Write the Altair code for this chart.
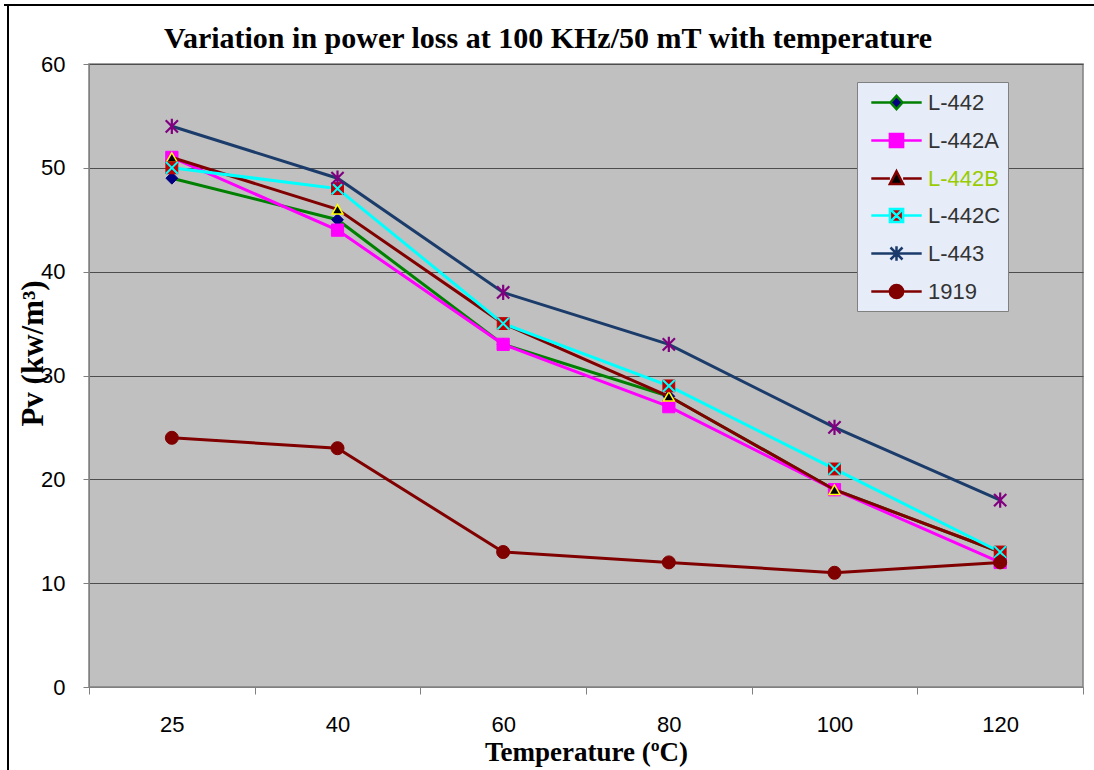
import altair as alt
import pandas as pd

temps = ["25", "40", "60", "80", "100", "120"]
series_names = ["L-442", "L-442A", "L-442B", "L-442C", "L-443", "1919"]
l442 = [49, 45, 33, 28, 19, 13]
l442a = [51, 44, 33, 27, 19, 12]
l442b = [51, 46, 35, 28, 19, 13]
l442c = [50, 48, 35, 29, 21, 13]
l443 = [54, 49, 38, 33, 25, 18]
s1919 = [24, 23, 13, 12, 11, 12]
y_ticks = [0, 10, 20, 30, 40, 50, 60]

values = [l442, l442a, l442b, l442c, l443, s1919]
line_colors = ["#008000", "#FF00FF", "#800000", "#00FFFF", "#1B3C6B", "#800000"]
marker_fills = ["#000080", "#FF00FF", "#000000", "#C00000", "#800080", "#800000"]

rows = []
for name, vals in zip(series_names, values):
    for t, v in zip(temps, vals):
        rows.append({"series": name, "temp": t, "pv": v})
df = pd.DataFrame(rows)

SANS = "Liberation Sans"

x_enc = alt.X(
    "temp:N", sort=temps,
    scale=alt.Scale(type="band", paddingInner=0, paddingOuter=0),
    axis=alt.Axis(
        title="Temperature (ºC)", titleFont="Liberation Serif", titleFontSize=27,
        titleFontWeight="bold", titleColor="black", titleY=65, titleBaseline="middle",
        labelFont=SANS, labelFontSize=22, labelColor="black", labelPadding=20,
        labelAngle=0, tickBand="extent", tickSize=7, tickColor="#808080",
        domainColor="#808080", grid=False,
    ),
)
y_enc = alt.Y(
    "pv:Q", scale=alt.Scale(domain=[0, 60], nice=False),
    axis=alt.Axis(
        title="Pv (kw/m³)", titleFont="Liberation Serif", titleFontSize=31,
        titleFontWeight="bold", titleColor="black", titleX=-56, titleY=289,
        titleAngle=-90, titleAlign="center", titleBaseline="middle",
        values=y_ticks, labelFont=SANS, labelFontSize=22, labelColor="black",
        labelPadding=18, tickSize=6, tickColor="#808080", domainColor="#808080",
        grid=True, gridColor="#4D4D4D", gridWidth=1,
    ),
)

base = alt.Chart(df).encode(x=x_enc, y=y_enc)

layers = []

def sel(name):
    return base.transform_filter(alt.datum.series == name)

marker_specs = {
    "L-442": [dict(shape="diamond", filled=True, fill="#000080", stroke="#000080", size=140, strokeWidth=1)],
    "L-442A": [dict(shape="square", filled=True, fill="#FF00FF", stroke="#FF00FF", size=150, strokeWidth=1)],
    "L-442B": [dict(shape="triangle-up", filled=True, fill="#000000", stroke="#FFFF00", size=120, strokeWidth=1.5)],
    "L-442C": [dict(shape="square", filled=True, fill="#C00000", stroke="#C00000", size=140, strokeWidth=1),
               dict(shape="M-1,-1L1,1M-1,1L1,-1", filled=False, stroke="#00FFFF", size=140, strokeWidth=2)],
    "L-443": [dict(shape="M-1,-1L1,1M-1,1L1,-1M0,-1.25V1.25", filled=False, stroke="#800080", size=150, strokeWidth=2.2)],
    "1919": [dict(shape="circle", filled=True, fill="#800000", stroke="#800000", size=170, strokeWidth=1)],
}

for name, lc in zip(series_names, line_colors):
    layers.append(sel(name).mark_line(color=lc, strokeWidth=3))
    for spec in marker_specs[name]:
        layers.append(sel(name).mark_point(opacity=1, **spec))

legend_shapes = [
    "M-2.1,0H-0.5M0.5,0H2.1M0,-0.55L0.5,0L0,0.55L-0.5,0Z",
    "M-2.1,0H-0.55M0.55,0H2.1M-0.55,-0.55H0.55V0.55H-0.55Z",
    "M-2.1,0H-0.55M0.55,0H2.1M0,-0.6L0.55,0.45H-0.55Z",
    "M-2.1,0H-0.55M0.55,0H2.1M-0.55,-0.55H0.55V0.55H-0.55ZM-0.55,-0.55L0.55,0.55M-0.55,0.55L0.55,-0.55",
    "M-2.1,0H2.1M-0.5,-0.5L0.5,0.5M-0.5,0.5L0.5,-0.5M0,-0.6V0.6",
    "M-2.1,0H-0.55M0.55,0H2.1M0.55,0A0.55,0.55,0,1,1,-0.55,0A0.55,0.55,0,1,1,0.55,0Z",
]

leg = alt.Legend(
    title=None, orient="none", legendX=768, legendY=18,
    fillColor="#E6EDF9", strokeColor="#808080", padding=7,
    symbolSize=576, symbolStrokeWidth=2.5, symbolOffset=19, symbolOpacity=1,
    labelOffset=18, labelFont=SANS, labelFontSize=22, rowPadding=12,
    labelColor={"expr": "datum.value == 'L-442B' ? '#99CC00' : '#333333'"},
)
legend_layer = base.mark_point(opacity=0).encode(
    shape=alt.Shape("series:N", sort=series_names,
                    scale=alt.Scale(domain=series_names, range=legend_shapes), legend=leg),
    fill=alt.Fill("series:N", sort=series_names,
                  scale=alt.Scale(domain=series_names, range=marker_fills), legend=leg),
    stroke=alt.Stroke("series:N", sort=series_names,
                      scale=alt.Scale(domain=series_names, range=line_colors), legend=leg),
)
layers.append(legend_layer)

frame_df = pd.DataFrame({"k": [0]})
left_frame = alt.Chart(frame_df).mark_rule(color="black", strokeWidth=2).encode(
    x=alt.value(-81), y=alt.value(-59), y2=alt.value(706))
top_frame = alt.Chart(frame_df).mark_rule(color="black", strokeWidth=2).encode(
    x=alt.value(-85), x2=alt.value(1005), y=alt.value(-59))
layers = [left_frame, top_frame] + layers

chart = alt.layer(*layers).properties(
    width=994, height=623,
    title=alt.TitleParams(
        "Variation in power loss at 100 KHz/50 mT with temperature",
        font="Liberation Serif", fontSize=30, fontWeight="bold", color="black",
        anchor="middle", dx=-38, offset=-50,
    ),
    autosize=alt.AutoSizeParams(type="none"),
    padding={"left": 89, "top": 64, "right": 11, "bottom": 83},
    background="white",
).configure_view(fill="#C0C0C0", stroke="#808080", strokeWidth=1.5)

chart.save("out.html", embed_options={"renderer": "svg", "actions": False})
